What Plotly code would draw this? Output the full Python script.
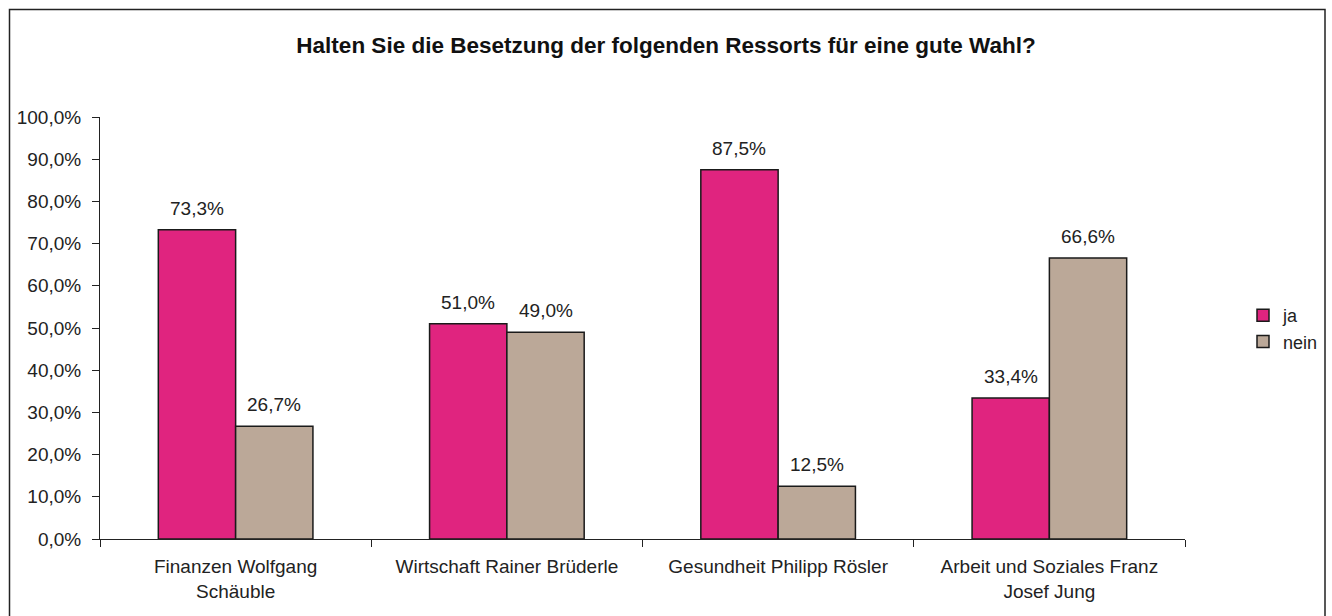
import plotly.graph_objects as go

categories = ["Finanzen Wolfgang<br>Schäuble", "Wirtschaft Rainer Brüderle",
              "Gesundheit Philipp Rösler", "Arbeit und Soziales Franz<br>Josef Jung"]
ja = [73.3, 51.0, 87.5, 33.4]
nein = [26.7, 49.0, 12.5, 66.6]
y_ticks = [0, 10, 20, 30, 40, 50, 60, 70, 80, 90, 100]

font_family = "Liberation Sans, Arial, sans-serif"

def fmt(v):
    return f"{v:.1f}".replace(".", ",") + "%"

fig = go.Figure()
fig.add_trace(go.Bar(x=categories, y=ja, name="ja",
                     marker=dict(color="#E0247F", line=dict(color="#1a1a1a", width=1.5))))
fig.add_trace(go.Bar(x=categories, y=nein, name="nein",
                     marker=dict(color="#BBA898", line=dict(color="#1a1a1a", width=1.5))))

W, H = 1332, 616
l, r, t, b = 100, 147, 117, 77
pw, ph = W - l - r, H - t - b
bargap = 0.43
half_bar = pw / len(categories) * (1 - bargap) / 4

def px(x):
    return (x - l) / pw

def py(y):
    return (H - b - y) / ph

annotations = []
for series, shift in ((ja, -half_bar), (nein, half_bar)):
    for c, v in zip(categories, series):
        annotations.append(dict(x=c, y=v, xref="x", yref="y", text=fmt(v), showarrow=False,
                                xshift=shift, yshift=9, yanchor="bottom",
                                font=dict(size=19, color="#222")))

fig.update_layout(
    width=W, height=H,
    margin=dict(l=l, r=r, t=t, b=b, autoexpand=False),
    paper_bgcolor="white", plot_bgcolor="white",
    barmode="group", bargap=bargap, bargroupgap=0,
    font=dict(family=font_family, size=19, color="#222"),
    title=dict(text="<b>Halten Sie die Besetzung der folgenden Ressorts für eine gute Wahl?</b>",
               x=0.5, xanchor="center", y=1 - 45 / H, yanchor="middle",
               font=dict(size=22.5, color="#111")),
    showlegend=True,
    legend=dict(x=px(1243), y=py(297), xanchor="left", yanchor="top",
                font=dict(size=18), bgcolor="rgba(0,0,0,0)", tracegroupgap=17),
    annotations=annotations,
    xaxis=dict(showline=True, linecolor="#222", linewidth=1, ticks="outside", tickson="boundaries",
               ticklen=7, tickcolor="#222", showgrid=False, tickfont=dict(size=19),
               ticklabelstandoff=10),
    yaxis=dict(range=[0, 100], tickvals=y_ticks, ticktext=[fmt(v) for v in y_ticks],
               showline=True, linecolor="#222", linewidth=1, ticks="outside", ticklen=7,
               tickcolor="#222", showgrid=False, zeroline=False, tickfont=dict(size=19),
               ticklabelstandoff=7),
    shapes=[dict(type="rect", xref="paper", yref="paper",
                 x0=px(9.5), x1=px(1325), y0=py(625), y1=py(9.5),
                 line=dict(color="#222", width=1.5), fillcolor="rgba(0,0,0,0)", layer="below")],
)

fig.write_html("out.html")
